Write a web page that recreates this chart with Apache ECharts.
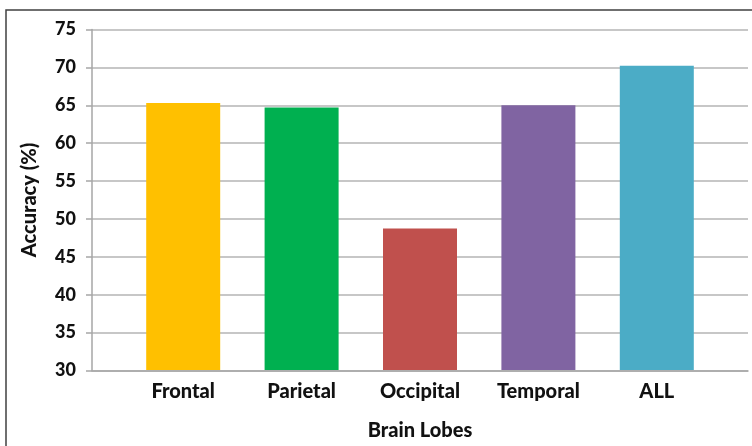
<!DOCTYPE html>
<html>
<head>
<meta charset="utf-8">
<script src="https://cdn.jsdelivr.net/npm/echarts@6/dist/echarts.min.js"></script>
<style>
html,body{margin:0;padding:0;background:#fff;}
#c{width:752px;height:446px;}
</style>
</head>
<body>
<div id="c"></div>
<script>
const categories = ['Frontal', 'Parietal', 'Occipital', 'Temporal', 'ALL'];
const accuracy = [65.3, 64.7, 48.7, 65.0, 70.2];
const barColors = ['#FFC000', '#00B050', '#C0504D', '#8064A2', '#4BACC6'];
const yTicks = [30, 35, 40, 45, 50, 55, 60, 65, 70, 75];

const FONT = 'Lato';
const chart = echarts.init(document.getElementById('c'), null, {renderer: 'canvas'});
chart.setOption({
  animation: false,
  backgroundColor: '#fff',
  graphic: [{
    type: 'rect', shape: {x: 6, y: 10, width: 800, height: 500},
    style: {fill: 'none', stroke: '#404040', lineWidth: 1.5}, z: -1
  }],
  grid: [
    {left: 92, right: 4, top: 29.5, bottom: 75.5},
    {left: 124, right: 36, top: 29.5, bottom: 75.5}
  ],
  xAxis: [
    {gridIndex: 0, type: 'category', data: categories, show: true,
     axisLine: {show: true, lineStyle: {color: '#A6A6A6', width: 1.5}},
     axisTick: {show: false}, axisLabel: {show: false}, splitLine: {show: false}},
    {gridIndex: 1, type: 'category', data: categories,
     axisLine: {show: false}, axisTick: {show: false},
     axisLabel: {fontFamily: FONT, fontWeight: 900, fontSize: 20, color: '#111', margin: 12},
     name: 'Brain Lobes', nameLocation: 'middle', nameGap: 51,
     nameTextStyle: {fontFamily: FONT, fontWeight: 900, fontSize: 20, color: '#111'}}
  ],
  yAxis: [
    {gridIndex: 0, type: 'value', min: yTicks[0], max: yTicks[yTicks.length-1], interval: 5,
     axisLine: {show: true, lineStyle: {color: '#A6A6A6', width: 1.5}},
     axisTick: {show: true, length: 6, lineStyle: {color: '#A6A6A6', width: 1.5}},
     axisLabel: {fontFamily: FONT, fontWeight: 900, fontSize: 18, color: '#111', margin: 16},
     splitLine: {show: true, lineStyle: {color: '#B4B4B4', width: 1.5}},
     name: 'Accuracy (%)', nameLocation: 'middle', nameGap: 52,
     nameTextStyle: {fontFamily: FONT, fontWeight: 900, fontSize: 20, color: '#111'}},
    {gridIndex: 1, type: 'value', min: yTicks[0], max: yTicks[yTicks.length-1], interval: 5, show: false,
     splitLine: {show: false}}
  ],
  series: [{
    type: 'bar', xAxisIndex: 1, yAxisIndex: 1,
    data: accuracy.map((v, i) => ({value: v, itemStyle: {color: barColors[i]}})),
    barWidth: 74
  }]
});
</script>
</body>
</html>
